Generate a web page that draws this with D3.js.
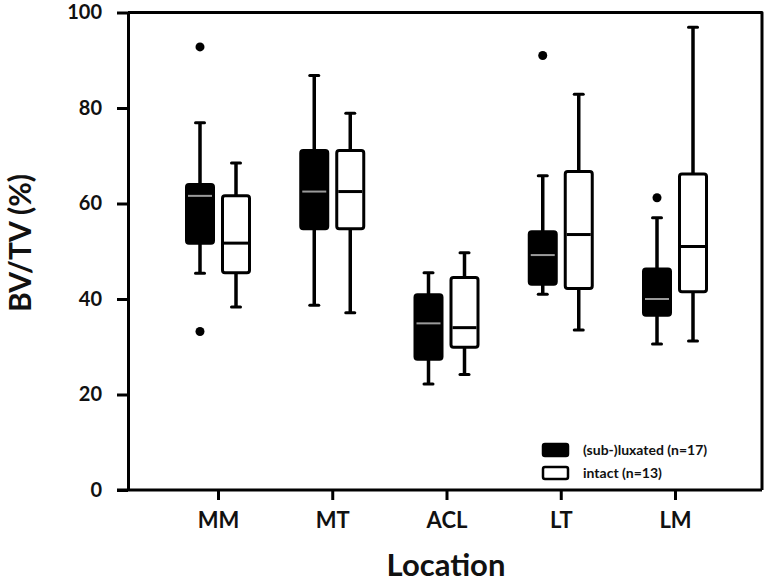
<!DOCTYPE html>
<html>
<head>
<meta charset="utf-8">
<script src="https://cdn.jsdelivr.net/npm/d3@7/dist/d3.min.js"></script>
<style>
  html, body { margin: 0; padding: 0; background: #fff; }
  svg { display: block; }
  text { font-family: Lato, "Open Sans", sans-serif; font-weight: bold; fill: #111; }
</style>
</head>
<body>
<svg id="chart" width="768" height="584"></svg>
<script>
// ---- data ----
const categories = ["MM", "MT", "ACL", "LT", "LM"];
const groups = ["(sub-)luxated (n=17)", "intact (n=13)"];
const yTicks = [0, 20, 40, 60, 80, 100];

// sub-luxated series
const subLow    = [45.4, 38.7, 22.2, 41.0, 30.6];
const subQ1     = [51.7, 54.7, 27.4, 43.1, 36.6];
const subMedian = [61.6, 62.5, 34.9, 49.2, 40.0];
const subQ3     = [64.0, 71.1, 40.9, 54.1, 46.3];
const subHigh   = [76.9, 86.8, 45.5, 65.8, 57.0];
const subOutliers = [[92.8, 33.2], [], [], [91.0], [61.2]];

// intact series
const intLow    = [38.3, 37.1, 24.2, 33.5, 31.2];
const intQ1     = [45.5, 54.7, 29.9, 42.2, 41.5];
const intMedian = [51.7, 62.5, 34.0, 53.5, 51.0];
const intQ3     = [61.6, 71.1, 44.5, 66.7, 66.2];
const intHigh   = [68.5, 78.9, 49.7, 82.9, 96.9];
const intOutliers = [[], [], [], [], []];

(function () {
// ---- build table ----
function series(key, low, q1, med, q3, high, outs) {
  return categories.map((c, i) => ({ cat: c, key, low: low[i], q1: q1[i], med: med[i], q3: q3[i], high: high[i], outs: outs[i] }));
}
const boxes = series(groups[0], subLow, subQ1, subMedian, subQ3, subHigh, subOutliers)
  .concat(series(groups[1], intLow, intQ1, intMedian, intQ3, intHigh, intOutliers));

// ---- layout ----
const mLeft = 128, mRight = 762, mTop = 12.5, mBottom = 490;
const svg = d3.select("#chart");

const y = d3.scaleLinear().domain([0, 100]).range([mBottom, mTop]);
const x = d3.scalePoint().domain(categories).range([218, 675]);
const xs = d3.scaleBand().domain(groups).range([-31.5, 31.5]).paddingInner(0.25).paddingOuter(0);
const bw = xs.bandwidth();
const fillColor = d3.scaleOrdinal().domain(groups).range(["#000", "#fff"]);
const medColor = d3.scaleOrdinal().domain(groups).range(["#9a9a9a", "#000"]);

// frame (top and right)
svg.append("path")
  .attr("d", `M${mLeft},${mTop}H${mRight}V${mBottom}`)
  .attr("fill", "none").attr("stroke", "#000").attr("stroke-width", 3)
  .attr("stroke-linejoin", "round");

// y axis
const yAxis = svg.append("g").attr("transform", `translate(${mLeft},0)`)
  .call(d3.axisLeft(y).tickValues(yTicks).tickSize(11).tickPadding(15).tickSizeOuter(0));
yAxis.select(".domain").attr("stroke-width", 3);
yAxis.selectAll(".tick line").attr("stroke-width", 3);
yAxis.selectAll(".tick text").attr("font-size", 20).attr("fill", "#111")
  .attr("font-family", "Lato, 'Open Sans', sans-serif").attr("font-weight", "bold");

// x axis
const xAxis = svg.append("g").attr("transform", `translate(0,${mBottom})`)
  .call(d3.axisBottom(x).tickSize(10).tickPadding(12).tickSizeOuter(0));
xAxis.select(".domain").attr("d", `M${mLeft - 11},0H${mRight}`).attr("stroke-width", 3);
xAxis.selectAll(".tick line").attr("stroke-width", 3);
xAxis.selectAll(".tick text").attr("font-size", 22).attr("fill", "#111")
  .attr("font-family", "Lato, 'Open Sans', sans-serif").attr("font-weight", "bold");

// axis titles
svg.append("text").attr("x", 446).attr("y", 576)
  .attr("text-anchor", "middle").attr("font-size", 31).text("Location");
svg.append("text").attr("transform", `translate(31,243) rotate(-90)`)
  .attr("text-anchor", "middle").attr("font-size", 30).text("BV/TV (%)");

// boxes
const g = svg.append("g").selectAll("g").data(boxes).join("g")
  .attr("transform", d => `translate(${x(d.cat) + xs(d.key)},0)`);

// whiskers
g.append("line").attr("x1", bw / 2).attr("x2", bw / 2)
  .attr("y1", d => y(d.high)).attr("y2", d => y(d.q3))
  .attr("stroke", "#000").attr("stroke-width", 3.5);
g.append("line").attr("x1", bw / 2).attr("x2", bw / 2)
  .attr("y1", d => y(d.q1)).attr("y2", d => y(d.low))
  .attr("stroke", "#000").attr("stroke-width", 3.5);
// caps
g.append("line").attr("x1", bw / 2 - 4.5).attr("x2", bw / 2 + 4.5)
  .attr("y1", d => y(d.high)).attr("y2", d => y(d.high))
  .attr("stroke", "#000").attr("stroke-width", 3).attr("stroke-linecap", "round");
g.append("line").attr("x1", bw / 2 - 4.5).attr("x2", bw / 2 + 4.5)
  .attr("y1", d => y(d.low)).attr("y2", d => y(d.low))
  .attr("stroke", "#000").attr("stroke-width", 3).attr("stroke-linecap", "round");
// box
g.append("rect").attr("x", 0).attr("width", bw)
  .attr("y", d => y(d.q3)).attr("height", d => y(d.q1) - y(d.q3))
  .attr("rx", 2.5)
  .attr("fill", d => fillColor(d.key)).attr("stroke", "#000").attr("stroke-width", 3);
// median
g.append("line").attr("x1", 1.5).attr("x2", bw - 1.5)
  .attr("y1", d => y(d.med)).attr("y2", d => y(d.med))
  .attr("stroke", d => medColor(d.key)).attr("stroke-width", d => d.key === groups[0] ? 2 : 3);
// outliers
g.selectAll("circle").data(d => d.outs).join("circle")
  .attr("cx", bw / 2).attr("cy", v => y(v)).attr("r", 4.5).attr("fill", "#000");

// legend
const lg = svg.append("g").selectAll("g").data(groups).join("g")
  .attr("transform", (d, i) => `translate(543,${444 + i * 23})`);
lg.append("rect").attr("width", 25).attr("height", 12).attr("rx", 2)
  .attr("fill", d => fillColor(d)).attr("stroke", "#000").attr("stroke-width", 2.5);
lg.append("text").attr("x", 40).attr("y", 6).attr("dy", "0.35em")
  .attr("font-size", 14).text(d => d);
})();
</script>
</body>
</html>
